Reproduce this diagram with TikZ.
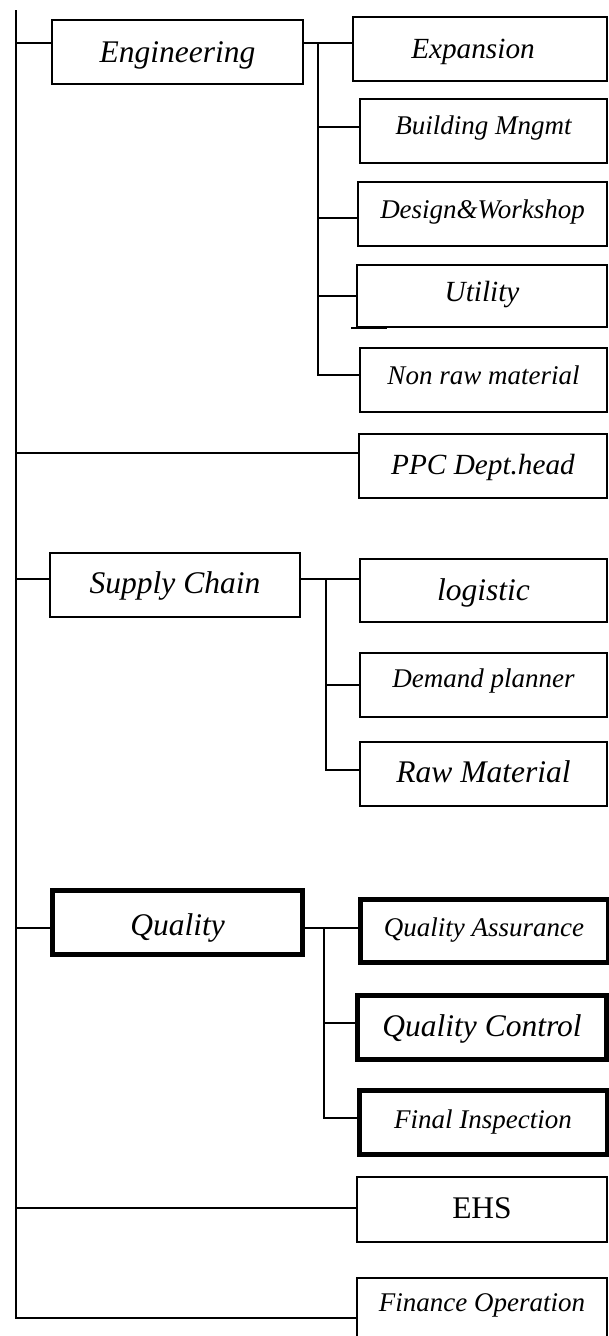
\documentclass[tikz,border=0pt]{standalone}
\usepackage{fontspec}
\setmainfont{Liberation Serif}
\tikzset{
  box/.style={draw, line width=1.8pt, inner sep=0pt, minimum width=248pt, minimum height=64pt},
  drop/.style={text height=#1, text depth=0pt},
  bigtxt/.style={font=\fontsize{31.5}{34}\selectfont\itshape},
  midtxt/.style={font=\fontsize{29.25}{32}\selectfont\itshape},
  smalltxt/.style={font=\fontsize{27}{30}\selectfont\itshape},
  heavy/.style={line width=5pt},
  link/.style={line width=1.6pt}
}
\begin{document}
\begin{tikzpicture}[x=1pt, y=-1pt]
    \useasboundingbox (0,0) rectangle (609,1336);

    % Departments on the left
    \node[box, bigtxt, drop=21.4pt, minimum width=251pt] (eng) at (177.5,52) {Engineering};
    \node[box, bigtxt, drop=16pt, minimum width=250pt] (supc) at (175,585) {Supply Chain};
    \node[box, bigtxt, heavy, drop=26pt, minimum width=250pt] (qlty) at (177.5,922.5) {Quality};

    % Engineering units
    \node[box, midtxt, drop=18pt, minimum width=254pt] (expn) at (480,49) {\hspace*{-14pt}Expansion};
    \node[box, smalltxt, drop=7pt, minimum width=247pt] (bldg) at (483.5,131) {Building Mngmt};
    \node[box, smalltxt, drop=8pt, minimum width=249pt] (dsgn) at (482.5,214) {Design\&Workshop};
    \node[box, midtxt, drop=11.4pt, minimum width=250pt, minimum height=62pt] (util) at (482,296) {Utility};
    \node[box, smalltxt, drop=9pt, minimum width=247pt] (nraw) at (483.5,380) {Non raw material};

    % PPC
    \node[box, midtxt, drop=17pt] (ppc) at (483,466) {PPC Dept.head};

    % Supply chain units
    \node[box, bigtxt, drop=20.4pt, minimum width=247pt, minimum height=63pt] (logi) at (483.5,590.5) {logistic};
    \node[box, smalltxt, drop=4pt, minimum width=247pt] (dmnd) at (483.5,685) {Demand planner};
    \node[box, bigtxt, drop=16pt, minimum width=247pt] (rawm) at (483.5,774) {Raw Material};

    % Quality units
    \node[box, smalltxt, heavy, drop=11.4pt, minimum height=63pt] (qa) at (484,931) {Quality Assurance};
    \node[box, bigtxt, heavy, drop=18pt, minimum width=249pt] (qc) at (482,1027.5) {Quality Control};
    \node[box, smalltxt, heavy, drop=11pt] (finsp) at (483,1122.5) {Final Inspection};

    % Others
    \node[box, font=\fontsize{31.5}{34}\selectfont, drop=17pt, minimum width=250pt, minimum height=65pt] (ehs) at (482,1209.5) {EHS};
    \node[box, smalltxt, drop=3.4pt, minimum width=250pt] (fin) at (482,1310) {Finance Operation};

    % Trunk
    \coordinate (top) at (16,10);
    \coordinate (t1) at (16,43);
    \coordinate (t2) at (16,453);
    \coordinate (t3) at (16,579);
    \coordinate (t4) at (16,928);
    \coordinate (t5) at (16,1208);
    \coordinate (t6) at (16,1318);
    \draw[link] (top) -- (t6) -- (t6 -| fin.west);
    \draw[link] (t1) -- (t1 -| eng.west);
    \draw[link] (t2) -- (t2 -| ppc.west);
    \draw[link] (t3) -- (t3 -| supc.west);
    \draw[link] (t4) -- (t4 -| qlty.west);
    \draw[link] (t5) -- (t5 -| ehs.west);

    % Engineering branch
    \coordinate (e0) at (318,43);
    \draw[link] (eng.east |- e0) -- (expn.west |- e0);
    \draw[link] (e0) |- (nraw.west |- 0,375);
    \draw[link] (e0 |- 0,127) -- (bldg.west |- 0,127);
    \draw[link] (e0 |- 0,218) -- (dsgn.west |- 0,218);
    \draw[link] (e0 |- 0,296) -- (util.west |- 0,296);
    \draw[line width=2.4pt] ([xshift=-5pt]util.south west) -- ++(36,0);

    % Supply chain branch
    \coordinate (s0) at (326,579);
    \draw[link] (supc.east |- s0) -- (logi.west |- s0);
    \draw[link] (s0) |- (rawm.west |- 0,770);
    \draw[link] (s0 |- 0,685) -- (dmnd.west |- 0,685);

    % Quality branch
    \coordinate (q0) at (324,928);
    \draw[link] (qlty.east |- q0) -- (qa.west |- q0);
    \draw[link] (q0) |- (finsp.west |- 0,1118);
    \draw[link] (q0 |- 0,1023) -- (qc.west |- 0,1023);
\end{tikzpicture}
\end{document}
